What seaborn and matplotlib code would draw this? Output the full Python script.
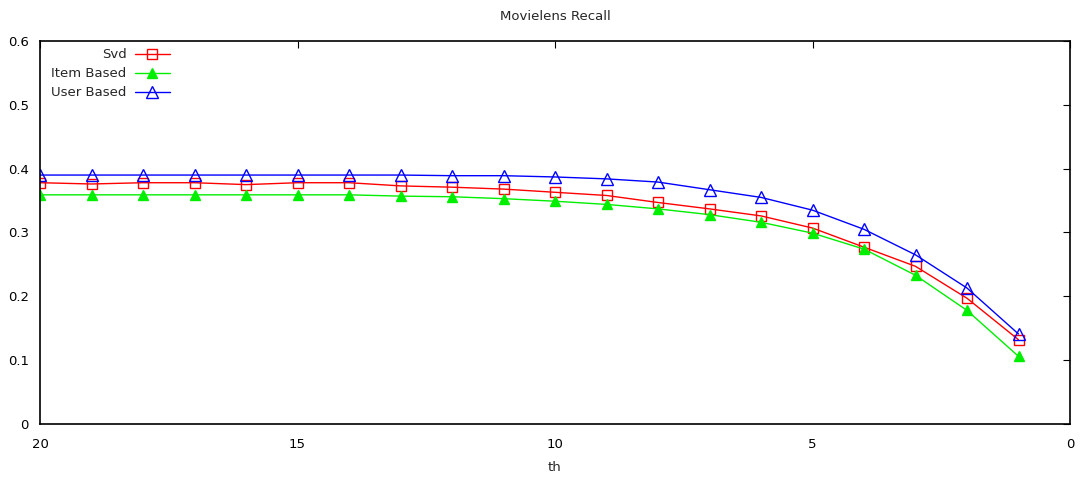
import matplotlib
matplotlib.use("Agg")
import matplotlib.pyplot as plt
import seaborn as sns
import pandas as pd

th = list(range(20, 0, -1))
svd = [0.378, 0.376, 0.378, 0.378, 0.375, 0.378, 0.378, 0.373, 0.371, 0.368,
       0.363, 0.358, 0.347, 0.337, 0.326, 0.307, 0.277, 0.247, 0.197, 0.132]
item_based = [0.359, 0.359, 0.359, 0.359, 0.359, 0.359, 0.359, 0.357, 0.356, 0.353,
              0.349, 0.344, 0.337, 0.328, 0.316, 0.299, 0.274, 0.233, 0.178, 0.106]
user_based = [0.390, 0.390, 0.390, 0.390, 0.390, 0.390, 0.390, 0.390, 0.389, 0.389,
              0.387, 0.384, 0.379, 0.367, 0.355, 0.335, 0.305, 0.265, 0.213, 0.141]
series_names = ["Svd", "Item Based", "User Based"]

df = pd.DataFrame({"th": th, "Svd": svd, "Item Based": item_based, "User Based": user_based})
long = df.melt(id_vars="th", var_name="method", value_name="recall")

sns.set_style("white")
plt.rcParams["font.family"] = ["DejaVu Sans"]
plt.rcParams["font.size"] = 8.5

fig = plt.figure(figsize=(10.81, 4.8), dpi=100)
ax = fig.add_axes([40/1081, 1 - 424/480, 1030/1081, 383/480])

palette = {"Svd": "#ff0000", "Item Based": "#00ee00", "User Based": "#0000ff"}
styles = {
    "Svd": dict(marker="s", mfc="none", ms=7),
    "Item Based": dict(marker="^", mfc="#00ee00", ms=7),
    "User Based": dict(marker="^", mfc="none", ms=8),
}
for name in series_names:
    sub = long[long["method"] == name]
    sns.lineplot(data=sub, x="th", y="recall", ax=ax, color=palette[name],
                 lw=1.0, label=name, mec=palette[name], mew=1.0, **styles[name])

ax.set_xlim(20, 0)
ax.set_ylim(0, 0.6)
ax.set_xticks([20, 15, 10, 5, 0])
ax.set_xticklabels(["20", "15", "10", "5", "0"])
ax.set_yticks([0, 0.1, 0.2, 0.3, 0.4, 0.5, 0.6])
ax.set_yticklabels(["0", "0.1", "0.2", "0.3", "0.4", "0.5", "0.6"])
ax.tick_params(direction="in", length=5, width=0.8, top=True, right=True,
               labelsize=9.5, pad=8, colors="black")
ax.tick_params(axis="x", pad=10)
for s in ax.spines.values():
    s.set_color("black")
    s.set_linewidth(1.2)
ax.set_xlabel("th", fontsize=9.5, labelpad=7)
ax.set_ylabel("")
ax.set_title("Movielens Recall", fontsize=9.5, pad=15)
ax.grid(False)

leg = ax.legend(loc="upper left", bbox_to_anchor=(0.002, 1.005), frameon=False,
                markerfirst=False, fontsize=9.5, handlelength=2.65,
                labelspacing=0.45, borderaxespad=0.3, handletextpad=0.6)

fig.savefig("out.png", dpi=100)
